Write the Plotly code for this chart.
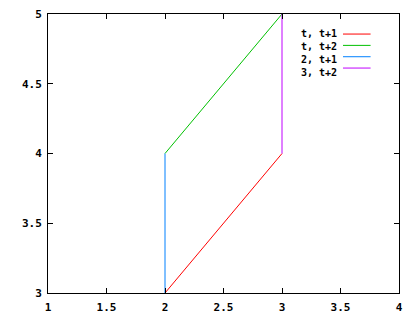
import plotly.graph_objects as go

names = ["t, t+1", "t, t+2", "2, t+1", "3, t+2"]
colors = ["#ff0000", "#00c000", "#0080ff", "#c000ff"]
xs = [[2, 3], [2, 3], [2, 2], [3, 3]]
ys = [[3, 4], [4, 5], [3, 4], [4, 5]]
xticks = [1, 1.5, 2, 2.5, 3, 3.5, 4]
xticklabels = ["1", "1.5", "2", "2.5", "3", "3.5", "4"]
yticks = [3, 3.5, 4, 4.5, 5]
yticklabels = ["3", "3.5", "4", "4.5", "5"]

font = dict(family="DejaVu Sans Mono", size=11, color="black", weight="bold")
lfont = dict(family="DejaVu Sans Mono", size=10, color="black", weight="bold")

fig = go.Figure()
for n, c, x, y in zip(names, colors, xs, ys):
    fig.add_trace(go.Scatter(x=x, y=y, mode="lines", name=n,
                             line=dict(color=c, width=1), showlegend=False))

# manual gnuplot-style legend (text right-aligned, sample on the right)
H = 320
row_y = [23, 36, 49, 62]
fig.add_annotation(x=347 / 420, y=1 - 44.5 / H, xref="paper", yref="paper",
                   text="<br>".join(names), showarrow=False, align="right",
                   xanchor="right", yanchor="middle", borderpad=0, font=lfont)
for i, c in enumerate(colors):
    yp = 1 - row_y[i] / H
    fig.add_shape(type="line", xref="paper", yref="paper",
                  x0=353 / 420, x1=386 / 420, y0=yp, y1=yp,
                  line=dict(color=c, width=1))

axis_common = dict(showgrid=False, zeroline=False, showline=True, linecolor="black",
                   linewidth=1, mirror="ticks", ticks="inside", ticklen=5,
                   tickcolor="black", tickwidth=1, tickfont=font, automargin=False)
fig.update_xaxes(range=[1, 4], tickvals=xticks, ticktext=xticklabels,
                 ticklabelstandoff=4, **axis_common)
fig.update_yaxes(range=[3, 5], tickvals=yticks, ticktext=yticklabels,
                 ticklabelstandoff=3, **axis_common)

fig.update_layout(width=420, height=320, margin=dict(l=48, r=21, t=14, b=27),
                  paper_bgcolor="white", plot_bgcolor="white", showlegend=False)
fig.write_html("out.html")
